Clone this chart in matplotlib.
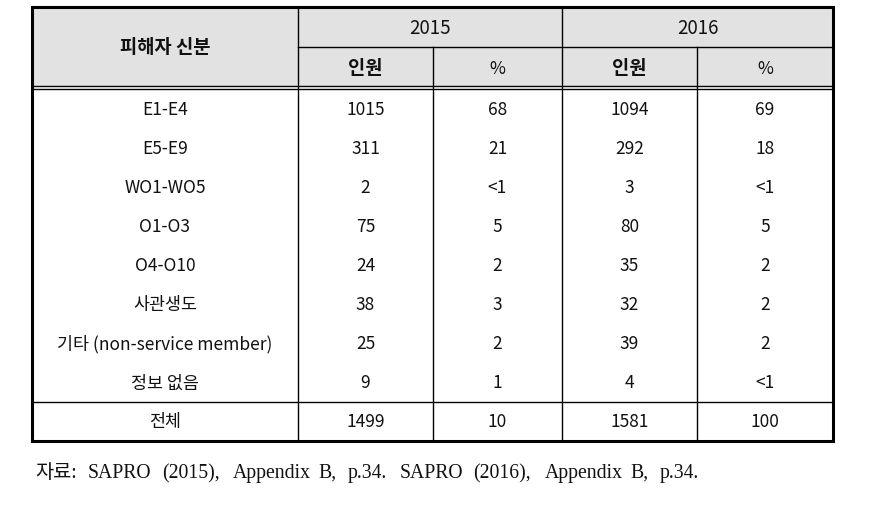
import matplotlib
matplotlib.use("Agg")
import matplotlib.pyplot as plt
from matplotlib.patches import Rectangle

plt.rcParams['font.family'] = ['Noto Sans CJK KR', 'DejaVu Sans']

# ---- data ----
row_header = "피해자 신분"
years = ["2015", "2016"]
sub_headers = ["인원", "%", "인원", "%"]
categories = ["E1-E4", "E5-E9", "WO1-WO5", "O1-O3", "O4-O10", "사관생도",
              "기타 (non-service member)", "정보 없음"]
n_2015 = ["1015", "311", "2", "75", "24", "38", "25", "9"]
pct_2015 = ["68", "21", "<1", "5", "2", "3", "2", "1"]
n_2016 = ["1094", "292", "3", "80", "35", "32", "39", "4"]
pct_2016 = ["69", "18", "<1", "5", "2", "2", "2", "<1"]
total_label = "전체"
total_row = ["1499", "10", "1581", "100"]
caption = "자료: SAPRO (2015), Appendix B, p.34. SAPRO (2016), Appendix B, p.34."

# ---- layout (pixel coordinates) ----
W, H = 876, 510
fig = plt.figure(figsize=(W / 100, H / 100), dpi=100)
ax = fig.add_axes([0, 0, 1, 1])
ax.set_xlim(0, W)
ax.set_ylim(H, 0)
ax.axis('off')

x_edges = [32, 298, 433, 562, 697, 833]
top, mid_head, head_bot, data_top = 8, 48, 87, 90
total_top, bottom = 403, 442
n_rows = len(categories)
row_h = (total_top - data_top) / n_rows

# header background
ax.add_patch(Rectangle((x_edges[0], top), x_edges[-1] - x_edges[0], head_bot - top,
                       facecolor='#e2e2e2', edgecolor='none', zorder=0))

lw_in = 1.0
# vertical inner lines
for i, x in enumerate(x_edges[1:-1], start=1):
    y0 = top if i in (1, 3) else mid_head
    ax.plot([x, x], [y0, bottom], color='black', lw=lw_in, zorder=2)
# horizontal lines
ax.plot([x_edges[1], x_edges[-1]], [mid_head, mid_head], color='black', lw=lw_in)
ax.plot([x_edges[0], x_edges[-1]], [head_bot, head_bot], color='black', lw=lw_in)
ax.plot([x_edges[0], x_edges[-1]], [data_top, data_top], color='black', lw=lw_in)
ax.plot([x_edges[0], x_edges[-1]], [total_top, total_top], color='black', lw=lw_in)
# outer border
ax.add_patch(Rectangle((x_edges[0], top), x_edges[-1] - x_edges[0], bottom - top,
                       facecolor='none', edgecolor='black', lw=2.2, zorder=3))

centers = [(x_edges[i] + x_edges[i + 1]) / 2 for i in range(5)]
fs = 12.5
col = '#111111'

# header texts
ax.text(centers[0], (top + head_bot) / 2, row_header, ha='center', va='center',
        fontsize=13.5, fontweight='bold', color=col)
ax.text((x_edges[1] + x_edges[3]) / 2, (top + mid_head) / 2, years[0], ha='center',
        va='center', fontsize=13.5, color=col)
ax.text((x_edges[3] + x_edges[5]) / 2, (top + mid_head) / 2, years[1], ha='center',
        va='center', fontsize=13.5, color=col)
for j, s in enumerate(sub_headers):
    ax.text(centers[j + 1], (mid_head + head_bot) / 2 + 1, s, ha='center', va='center',
            fontsize=13.5 if s == "인원" else fs,
            fontweight='bold' if s == "인원" else 'normal', color=col)

# data rows
for i in range(n_rows):
    yc = data_top + row_h * (i + 0.5)
    vals = [categories[i], n_2015[i], pct_2015[i], n_2016[i], pct_2016[i]]
    for j, v in enumerate(vals):
        ax.text(centers[j], yc, v, ha='center', va='center', fontsize=fs, color=col)

# total row
yc = (total_top + bottom) / 2
for j, v in enumerate([total_label] + total_row):
    ax.text(centers[j], yc, v, ha='center', va='center', fontsize=fs, color=col)

# caption (justified-looking spacing, word by word)
word_x = [35, 88, 162, 233, 318, 348, 400, 473, 545, 630, 660]
for wx, word in zip(word_x, caption.split(" ")):
    ax.text(wx, 478, word, ha='left', va='baseline', fontsize=14.2, color=col,
            family=['Liberation Serif', 'Noto Sans CJK KR'])

fig.savefig('out.png', dpi=100)
